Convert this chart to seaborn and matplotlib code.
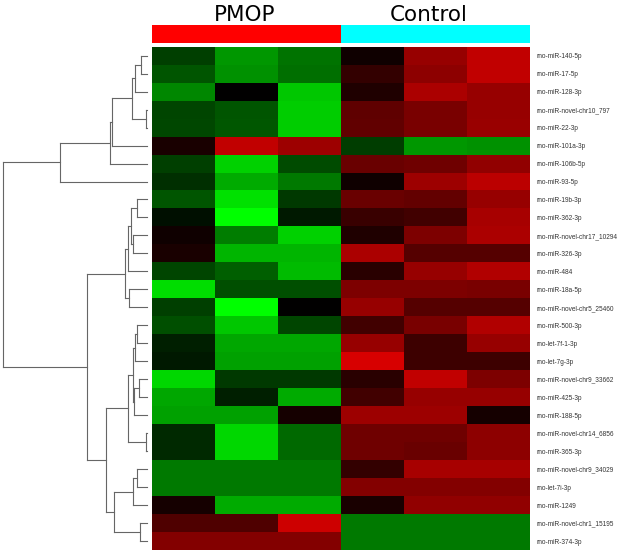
import numpy as np
import pandas as pd
import seaborn as sns
import matplotlib.pyplot as plt
from matplotlib.colors import LinearSegmentedColormap, ListedColormap

# row-scaled expression, rows in dendrogram order
mirnas = [
    'rno-miR-140-5p', 'rno-miR-17-5p', 'rno-miR-128-3p', 'rno-miR-novel-chr10_797',
    'rno-miR-22-3p', 'rno-miR-101a-3p', 'rno-miR-106b-5p', 'rno-miR-93-5p',
    'rno-miR-19b-3p', 'rno-miR-362-3p', 'rno-miR-novel-chr17_10294', 'rno-miR-326-3p',
    'rno-miR-484', 'rno-miR-18a-5p', 'rno-miR-novel-chr5_25460', 'rno-miR-500-3p',
    'rno-let-7f-1-3p', 'rno-let-7g-3p', 'rno-miR-novel-chr9_33662', 'rno-miR-425-3p',
    'rno-miR-188-5p', 'rno-miR-novel-chr14_6856', 'rno-miR-365-3p', 'rno-miR-novel-chr9_34029',
    'rno-let-7i-3p', 'rno-miR-1249', 'rno-miR-novel-chr1_15195', 'rno-miR-374-3p',
]

pmop = [
    [-0.25, -0.59, -0.45], [-0.33, -0.57, -0.43], [-0.53, 0.00, -0.78], [-0.27, -0.33, -0.80],
    [-0.28, -0.34, -0.80], [0.10, 0.75, 0.61], [-0.25, -0.82, -0.29], [-0.18, -0.67, -0.47],
    [-0.33, -0.88, -0.22], [-0.06, -1.00, -0.10], [0.06, -0.49, -0.82], [0.10, -0.71, -0.71],
    [-0.27, -0.37, -0.73], [-0.86, -0.31, -0.31], [-0.25, -1.00, 0.00], [-0.31, -0.78, -0.27],
    [-0.12, -0.65, -0.65], [-0.10, -0.63, -0.63], [-0.84, -0.22, -0.22], [-0.65, -0.12, -0.67],
    [-0.63, -0.63, 0.08], [-0.16, -0.84, -0.41], [-0.16, -0.84, -0.41], [-0.47, -0.47, -0.47],
    [-0.47, -0.47, -0.47], [0.08, -0.67, -0.67], [0.31, 0.31, 0.80], [0.51, 0.51, 0.51],
]

control = [
    [0.06, 0.59, 0.75], [0.20, 0.55, 0.75], [0.12, 0.67, 0.59], [0.37, 0.47, 0.59],
    [0.38, 0.47, 0.60], [-0.24, -0.59, -0.57], [0.41, 0.43, 0.57], [0.06, 0.61, 0.73],
    [0.41, 0.39, 0.59], [0.22, 0.25, 0.65], [0.12, 0.49, 0.67], [0.67, 0.33, 0.33],
    [0.16, 0.59, 0.69], [0.49, 0.49, 0.47], [0.59, 0.33, 0.33], [0.25, 0.47, 0.69],
    [0.59, 0.24, 0.59], [0.84, 0.24, 0.24], [0.16, 0.75, 0.49], [0.25, 0.59, 0.59],
    [0.61, 0.61, 0.08], [0.43, 0.43, 0.55], [0.43, 0.41, 0.55], [0.20, 0.65, 0.65],
    [0.51, 0.51, 0.51], [0.10, 0.57, 0.57], [-0.47, -0.47, -0.47], [-0.47, -0.47, -0.47],
]

groups = ['PMOP', 'Control']

# row tree: node -> (child, child, height); ints are leaf rows
tree = {
    'A': (0, 1, 18), 'B': ('A', 2, 36), 'C': (3, 4, 2), 'D': ('B', 'C', 43),
    'E': ('D', 5, 104), 'F': ('E', 6, 111), 'G': ('F', 7, 259),
    'H': (8, 9, 29), 'I': (10, 11, 40), 'J': ('H', 'I', 46), 'K': ('J', 12, 57),
    'L': (13, 14, 52), 'M': ('K', 'L', 66),
    'N': (15, 16, 30), 'O': ('N', 17, 36), 'P': (18, 19, 24), 'Q': ('P', 20, 39),
    'R': ('O', 'Q', 42), 'S': (21, 22, 2), 'T': ('R', 'S', 57),
    'U': (23, 24, 28), 'V': ('U', 25, 40), 'W': (26, 27, 20), 'X': ('V', 'W', 97),
    'Y': ('T', 'X', 122), 'Z': ('M', 'Y', 178), 'root': ('G', 'Z', 430),
}

samples = [f'{groups[0]}_{i}' for i in range(1, 4)] + [f'{groups[1]}_{i}' for i in range(1, 4)]
df = pd.DataFrame(np.hstack([pmop, control]), index=mirnas, columns=samples)

W, H = 621, 554
fig = plt.figure(figsize=(W / 100, H / 100), dpi=100)

hm_left, hm_right, hm_top, hm_bot = 152, 530, 46.7, 550
ax_hm = fig.add_axes([hm_left / W, (H - hm_bot) / H, (hm_right - hm_left) / W, (hm_bot - hm_top) / H])
ax_bar = fig.add_axes([hm_left / W, (H - 42.7) / H, (hm_right - hm_left) / W, 17.7 / H])
ax_den = fig.add_axes([3 / W, (H - hm_bot) / H, 143.7 / W, (hm_bot - hm_top) / H])

cmap = LinearSegmentedColormap.from_list('gkr', ['#00ff00', '#000000', '#ff0000'])
sns.heatmap(df, ax=ax_hm, cmap=cmap, vmin=-1, vmax=1, cbar=False,
            xticklabels=False, yticklabels=True)
ax_hm.yaxis.tick_right()
ax_hm.tick_params(axis='y', length=0, pad=4.8, labelsize=4.7, labelcolor='#333333',
                  labelrotation=0)
for t in ax_hm.get_yticklabels():
    t.set_fontfamily('Liberation Sans')
ax_hm.set_xlabel('')
ax_hm.set_ylabel('')

# group annotation bar
grp = pd.DataFrame([[0] * 3 + [1] * 3], columns=samples)
sns.heatmap(grp, ax=ax_bar, cmap=ListedColormap(['#ff0000', '#00ffff']), vmin=0, vmax=1,
            cbar=False, xticklabels=False, yticklabels=False)
fig.text(245 / W, (H - 20.7) / H, groups[0], ha='center', va='baseline', fontsize=15.5)
fig.text(429 / W, (H - 20.7) / H, groups[1], ha='center', va='baseline', fontsize=15.5)


def draw(node):
    if isinstance(node, int):
        return node + 0.5, 0
    a, b, h = tree[node]
    ya, ha = draw(a)
    yb, hb = draw(b)
    kw = dict(color='#666666', lw=0.8, clip_on=False)
    ax_den.plot([ha, h], [ya, ya], **kw)
    ax_den.plot([hb, h], [yb, yb], **kw)
    ax_den.plot([h, h], [ya, yb], **kw)
    return (ya + yb) / 2, h


draw('root')
ax_den.set_xlim(430, 0)
ax_den.set_ylim(len(mirnas), 0)
ax_den.axis('off')

plt.savefig('out.png', dpi=100)
